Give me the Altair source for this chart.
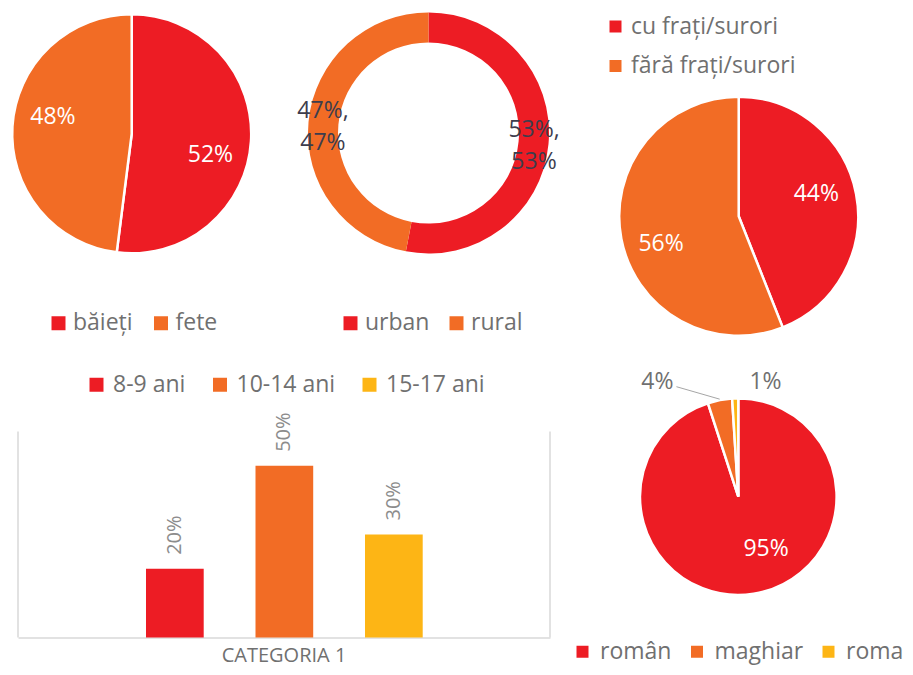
import math
import altair as alt
import pandas as pd

# ---------------- data ----------------
gender_cats = ["băieți", "fete"]
gender_vals = [0.52, 0.48]

area_cats = ["urban", "rural"]
area_vals = [0.53, 0.47]

sibling_cats = ["cu frați/surori", "fără frați/surori"]
sibling_vals = [0.44, 0.56]

ethnic_cats = ["român", "maghiar", "roma"]
ethnic_vals = [0.95, 0.04, 0.01]

age_cats = ["8-9 ani", "10-14 ani", "15-17 ani"]
age_vals = [0.20, 0.50, 0.30]
bar_category = "Categoria 1"

# ---------------- style ----------------
RED, ORANGE, YELLOW = "#ED1C24", "#F26C25", "#FDB515"
FONT = "Open Sans"
GRAY = "#707070"
DARK = "#3d3d4d"
FRAME = "#d9d9d9"
W, H = 897, 659


def frame(cats, vals):
    return pd.DataFrame({"cat": cats, "val": vals, "ord": list(range(len(cats)))})


def legend(x, y, direction="horizontal", size=14, offset=3, colpad=15, rowpad=0):
    return alt.Legend(
        orient="none", legendX=x, legendY=y, direction=direction, title=None,
        symbolType="square", symbolSize=size * size, symbolStrokeWidth=0,
        labelFont=FONT, labelFontSize=23, labelColor=GRAY, labelOffset=offset,
        columnPadding=colpad, rowPadding=rowpad, padding=0, labelLimit=400,
    )


def pie(df, cats, colors, cx, cy, r, lg, inner=0, stroke=2.5):
    return alt.Chart(df).mark_arc(
        outerRadius=r, innerRadius=inner, stroke="white", strokeWidth=stroke
    ).encode(
        x=alt.value(cx), y=alt.value(cy),
        theta=alt.Theta("val:Q", stack=True),
        order=alt.Order("ord:Q"),
        color=alt.Color("cat:N", scale=alt.Scale(domain=cats, range=colors), legend=lg),
    )


def pie_text(df, cx, cy, radius, theta_off, color, text, dy=3, **kw):
    return alt.Chart(df).mark_text(
        radius=radius, thetaOffset=theta_off, font=FONT, fontSize=23, color=color,
        align="center", baseline="middle", dy=dy, **kw
    ).encode(
        x=alt.value(cx), y=alt.value(cy),
        theta=alt.Theta("val:Q", stack=True),
        order=alt.Order("ord:Q"),
        detail="cat:N",
        text=text,
    )


pct = alt.Text("val:Q", format=".0%")

# ---- pie 1 : gender ----
g_df = frame(gender_cats, gender_vals)
P1 = (123.7, 125.8, 119.5)
pie1 = pie(g_df, gender_cats, [RED, ORANGE], *P1, legend(39, 303.5, colpad=16.5))
pie1_t = pie_text(g_df, P1[0], P1[1], 81, math.radians(10), "white", pct, dy=2)

# ---- donut : area ----
a_df = frame(area_cats, area_vals)
P2 = (420.5, 125.0, 120.5)
donut = pie(a_df, area_cats, [RED, ORANGE], *P2, legend(331, 303.5, colpad=15), inner=90.5, stroke=0)
donut_t = pie_text(
    a_df, P2[0], P2[1], 106, 0, DARK, alt.Text("lab:N"), dy=-12.5, lineBreak="|", lineHeight=32
).transform_calculate(lab="format(datum.val, '.0%') + ',|' + format(datum.val, '.0%')")

# ---- pie 3 : siblings ----
s_df = frame(sibling_cats, sibling_vals)
P3 = (730.7, 208.3, 119.5)
pie3 = pie(s_df, sibling_cats, [RED, ORANGE], *P3,
           legend(596, 7, direction="vertical", size=12, offset=4, rowpad=15.5))
pie3_t = pie_text(s_df, P3[0], P3[1], 81.5, math.radians(-7), "white", pct)

# ---- pie 4 : ethnicity ----
e_df = frame(ethnic_cats, ethnic_vals)
P4 = (730.3, 488.7, 98.3)
pie4 = pie(e_df, ethnic_cats, [RED, ORANGE, YELLOW], *P4,
           legend(563, 632, size=12, offset=6, colpad=13.5))


def only(name):
    return alt.condition(f"datum.cat == '{name}'", pct, alt.value(""))


pie4_in = pie_text(e_df, P4[0], P4[1], 58, math.radians(-19.6), "white", only("român"), dy=1)
lab4_r, lab4_off = 141, math.radians(-24.2)
pie4_m = pie_text(e_df, P4[0], P4[1], lab4_r, lab4_off, GRAY, only("maghiar"), dy=1)
pie4_r = pie_text(e_df, P4[0], P4[1], 119, math.radians(15), GRAY, only("roma"), dy=1)

# leader line from the "4%" label to its slice (angle taken from the data)
mid_m = 2 * math.pi * (ethnic_vals[0] + ethnic_vals[1] / 2)
lx = P4[0] + lab4_r * math.sin(mid_m + lab4_off) + 19
ly = P4[1] - lab4_r * math.cos(mid_m + lab4_off) + 5.5
ex = P4[0] + (P4[2] + 1) * math.sin(mid_m)
ey = P4[1] - (P4[2] + 1) * math.cos(mid_m)
leader = alt.Chart(pd.DataFrame({"cat": ["maghiar"]})).mark_rule(
    color="#a6a6a6", strokeWidth=1
).encode(x=alt.value(lx), y=alt.value(ly), x2=alt.value(ex), y2=alt.value(ey))

# ---- bar chart : age ----
bar_df = pd.DataFrame({"cat": [bar_category] * len(age_cats), "grp": age_cats, "val": age_vals})
BASE = 629.5
xscale = alt.Scale(domain=[bar_category], range=[10, 542], paddingInner=0, paddingOuter=0)
xaxis = alt.Axis(
    title=None, orient="bottom", offset=-(H - BASE), domain=True, domainColor=FRAME,
    domainWidth=1.5, ticks=False, tickSize=0, grid=False, labelAngle=0,
    labelExpr="upper(datum.label)", labelFont=FONT, labelFontSize=20,
    labelColor=GRAY, labelPadding=8,
)
xoff = alt.XOffset(
    "grp:N",
    scale=alt.Scale(domain=age_cats, range=[102.1, 430.6], paddingInner=0.473, paddingOuter=0.2365),
)
yscale = alt.Scale(domain=[0, 0.6], range=[BASE, 423.5], nice=False, zero=True)

bars = alt.Chart(bar_df).mark_bar().encode(
    x=alt.X("cat:N", scale=xscale, axis=xaxis),
    xOffset=xoff,
    y=alt.Y("val:Q", scale=yscale, axis=None),
    color=alt.Color("grp:N", scale=alt.Scale(domain=age_cats, range=[RED, ORANGE, YELLOW]),
                    legend=legend(77, 365, colpad=22.5, offset=5)),
)
bar_t = alt.Chart(bar_df).mark_text(
    angle=270, align="left", baseline="middle", dx=14, font=FONT, fontSize=20, color="#8c8c8c"
).encode(
    x=alt.X("cat:N", scale=xscale, axis=xaxis),
    xOffset=xoff,
    y=alt.Y("val:Q", scale=yscale, axis=None),
    text=pct,
)

frame_df = pd.DataFrame({"cat": [bar_category]})


def side(pos):
    return alt.Chart(frame_df).mark_rule(color=FRAME, strokeWidth=1.5).encode(
        x=alt.X("cat:N", bandPosition=pos, scale=xscale, axis=xaxis),
        y=alt.YDatum(0, type="quantitative", scale=yscale, axis=None),
        y2=alt.Y2Datum(0.6),
    )


chart = alt.layer(
    side(0), side(1), bars, bar_t,
    pie1, pie1_t, donut, donut_t, pie3, pie3_t,
    pie4, pie4_in, pie4_m, pie4_r, leader,
).resolve_scale(
    color="independent", theta="independent"
).properties(
    width=W, height=H, padding=0, autosize=alt.AutoSizeParams(type="none"),
    background="white",
).configure_view(stroke=None)

chart.save("out.html", embed_options={"renderer": "svg", "actions": False})
